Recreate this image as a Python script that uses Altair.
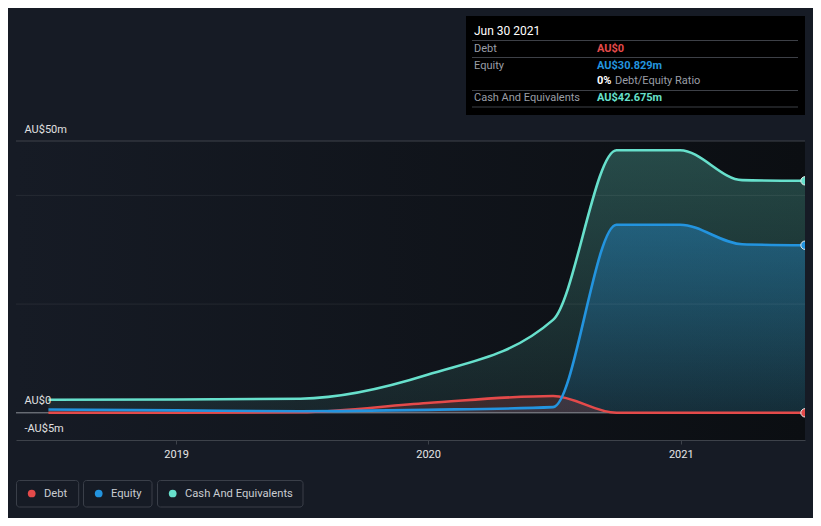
import altair as alt
import pandas as pd

# ---- data (millions AUD) ----
dates = ["2018-06-30", "2018-12-31", "2019-06-30", "2019-12-31",
         "2020-06-30", "2020-09-30", "2020-12-31", "2021-03-31", "2021-06-30"]
debt = [0.0, 0.0, 0.1, 1.8, 3.1, 0.0, 0.0, 0.0, 0.0]
equity = [0.6, 0.45, 0.3, 0.55, 1.05, 34.6, 34.6, 31.0, 30.829]
cash = [2.4, 2.45, 2.6, 7.0, 17.1, 48.3, 48.3, 42.8, 42.675]
series_names = ["Debt", "Equity", "Cash And Equivalents"]
series_colors = ["#e44a4a", "#2394df", "#67e0cc"]
y_ticks = [-5, 0, 50]
y_grid = [20, 40]
y_top = [50]
x_years = [2019, 2020, 2021]
tooltip_date = "Jun 30 2021"
ratio_text = "0%"

W, H = 789, 299
df = pd.DataFrame({"date": pd.to_datetime(dates), "Debt": debt, "Equity": equity, "Cash": cash})
last = df.tail(1)
one = pd.DataFrame({"a": [0]})

xscale = alt.Scale(domain=[alt.DateTime(year=2018, month=5, date=14),
                           alt.DateTime(year=2021, month=6, date=30)])
yscale = alt.Scale(domain=[-5, 50], nice=False, zero=False)

x_axis = alt.Axis(values=[alt.DateTime(year=y, month=1, date=1) for y in x_years], format="%Y",
                  grid=False, domainColor="#3d424a", tickColor="#3d424a", tickSize=4,
                  labelColor="#e6e6e6", labelFontSize=11, labelPadding=4, title=None,
                  labelFlush=False)
y_axis = alt.Axis(values=y_ticks,
                  labelExpr="(datum.value < 0 ? '-' : '') + 'AU$' + abs(datum.value) + (datum.value == 0 ? '' : 'm')",
                  domain=False, ticks=False, tickSize=0, grid=False, labelAlign="left",
                  labelPadding=-8, labelBaseline="alphabetic", labelOffset=-9,
                  labelColor="#e0e0e0", labelFontSize=11, title=None, labelOverlap=False,
                  labelFlush=False, zindex=1)

X = alt.X("date:T", scale=xscale, axis=x_axis)


def Y(field):
    return alt.Y(field, scale=yscale, axis=y_axis)


def hex_rgba(h, a):
    h = h.lstrip("#")
    r, g, b = int(h[0:2], 16), int(h[2:4], 16), int(h[4:6], 16)
    return f"rgba({r},{g},{b},{a})"


def vgrad(color, a_top, a_bot):
    return alt.Gradient(gradient="linear",
                        stops=[alt.GradientStop(color=hex_rgba(color, a_top), offset=0),
                               alt.GradientStop(color=hex_rgba(color, a_bot), offset=1)],
                        x1=0, x2=0, y1=0, y2=1)


bg = alt.Chart(one).mark_rect(color=alt.Gradient(
    gradient="linear",
    stops=[alt.GradientStop(color="#161b25", offset=0), alt.GradientStop(color="#0b0e12", offset=1)],
    x1=0, x2=1, y1=0, y2=0)).encode(x=alt.value(0), x2=alt.value(W), y=alt.value(0), y2=alt.value(H))

cash_area = alt.Chart(df).mark_area(interpolate="monotone", color=vgrad(series_colors[2], 0.28, 0.08)).encode(
    x=X, y=Y("Cash:Q"), y2=alt.datum(0))
eq_area = alt.Chart(df).mark_area(interpolate="monotone", color=vgrad(series_colors[1], 0.38, 0.12)).encode(
    x=X, y=Y("Equity:Q"), y2=alt.datum(0))
debt_area = alt.Chart(df).mark_area(interpolate="monotone", color=hex_rgba(series_colors[0], 0.18)).encode(
    x=X, y=Y("Debt:Q"), y2=alt.datum(0))

grid_df = pd.DataFrame({"v": y_grid})
grid = alt.Chart(grid_df).mark_rule(color="#ffffff", opacity=0.07, strokeWidth=1).encode(y=Y("v:Q"))
top_rule = alt.Chart(pd.DataFrame({"v": y_top})).mark_rule(color="#3e434b", strokeWidth=1).encode(y=Y("v:Q"))
zero_rule = alt.Chart(pd.DataFrame({"v": [0]})).mark_rule(color="#8c9098", strokeWidth=1).encode(y=Y("v:Q"))

debt_line = alt.Chart(df).mark_line(interpolate="monotone", strokeWidth=2.6, color=series_colors[0]).encode(
    x=X, y=Y("Debt:Q"))
eq_line = alt.Chart(df).mark_line(interpolate="monotone", strokeWidth=2.6, color=series_colors[1]).encode(
    x=X, y=Y("Equity:Q"))
cash_line = alt.Chart(df).mark_line(interpolate="monotone", strokeWidth=2.6, color=series_colors[2]).encode(
    x=X, y=Y("Cash:Q"))

pts = []
for f, c in zip(["Debt", "Equity", "Cash"], series_colors):
    pts.append(alt.Chart(last).mark_point(filled=True, size=70, color=c, stroke="#e8e8e8",
                                          strokeWidth=1, opacity=1, clip=True).encode(x=X, y=Y(f"{f}:Q")))


def txt(x, y, s, color, size=11, weight="normal"):
    return alt.Chart(one).mark_text(align="left", baseline="middle", fontSize=size, fontWeight=weight,
                                    color=color, font="Roboto").encode(
        x=alt.value(x), y=alt.value(y), text=alt.value(s))


def hline(x1, x2, y, color):
    return alt.Chart(one).mark_rule(color=color, strokeWidth=1).encode(
        x=alt.value(x1), x2=alt.value(x2), y=alt.value(y))


# tooltip box
tip = [alt.Chart(one).mark_rect(color="#000000").encode(
    x=alt.value(450), x2=alt.value(789), y=alt.value(-125), y2=alt.value(-26))]
tip += [hline(456, 782, yy, "#3d4047") for yy in [-100.5, -83.5, -50.5, -34]]
tip += [
    txt(458, -110.5, tooltip_date, "#ffffff", 12),
    txt(458, -92.5, series_names[0], "#9a9ea6"),
    txt(581, -92.5, f"AU${debt[-1]:.0f}", series_colors[0], 11, "bold"),
    txt(458, -75.5, series_names[1], "#9a9ea6"),
    txt(581, -75.5, f"AU${equity[-1]:.3f}m", series_colors[1], 11, "bold"),
    txt(581, -60, ratio_text, "#ffffff", 11, "bold"),
    txt(599, -60, "Debt/Equity Ratio", "#9a9ea6"),
    txt(458, -43.5, series_names[2], "#9a9ea6"),
    txt(581, -43.5, f"AU${cash[-1]:.3f}m", series_colors[2], 11, "bold"),
]

# legend
leg = []
boxes = [(0, 62.7), (67, 136), (141, 287)]
for (x1, x2), name, c in zip(boxes, series_names, series_colors):
    leg.append(alt.Chart(one).mark_rect(fillOpacity=0, stroke="#3a3f49", strokeWidth=1, cornerRadius=3).encode(
        x=alt.value(x1 + 0.5), x2=alt.value(x2), y=alt.value(339.5), y2=alt.value(366)))
    leg.append(alt.Chart(one).mark_circle(size=60, color=c, opacity=1).encode(
        x=alt.value(x1 + 15.7), y=alt.value(352.5)))
    leg.append(txt(x1 + 28, 352.5, name, "#c9ccd1", 11.2))

chart = alt.layer(bg, cash_area, eq_area, debt_area, grid, top_rule, zero_rule,
                  debt_line, eq_line, cash_line, *pts, *tip, *leg).properties(
    width=W, height=H,
    padding={"left": 8, "top": 133, "right": 8, "bottom": 78},
    autosize=alt.AutoSizeParams(type="none"),
    background="#161b25",
).configure(font="Roboto").configure_view(stroke=None)

chart.save("out.html", embed_options={"renderer": "svg", "actions": False})
